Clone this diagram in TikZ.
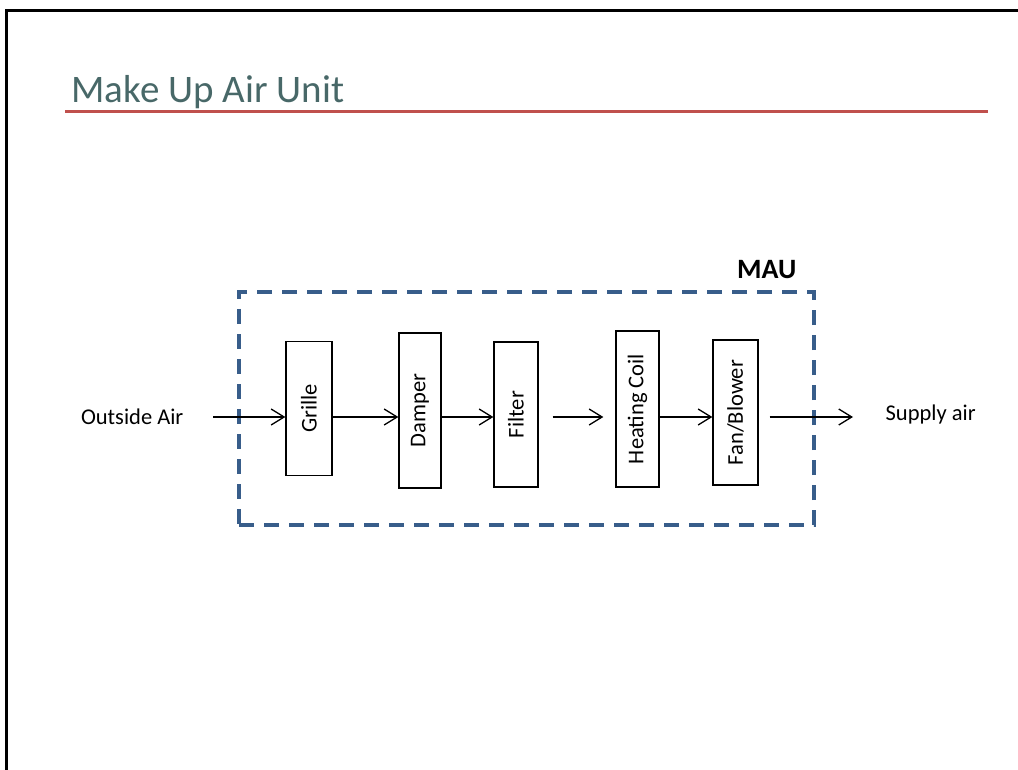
\documentclass[tikz,border=0pt]{standalone}
\usepackage{fontspec}
\setmainfont{Carlito}
\usepackage{graphicx}
\usetikzlibrary{positioning,arrows.meta}
\definecolor{titlegray}{RGB}{72,104,104}
\definecolor{rulered}{RGB}{192,80,77}
\definecolor{maublue}{RGB}{56,93,138}
\begin{document}
\begin{tikzpicture}[x=1pt, y=-1pt,
  unit/.style={draw, line width=1.3pt, inner sep=0pt, font=\fontsize{22.5}{26}\selectfont},
  lbl/.style={font=\fontsize{22.5}{26}\selectfont, inner sep=0pt},
  maubox/.style={draw=maublue, line width=4pt, dash pattern=on 15pt off 10pt, inner sep=0pt},
  maulbl/.style={font=\fontsize{28}{32}\selectfont\bfseries, inner sep=0pt},
  >={Straight Barb[length=13pt, width=16pt]}, line width=1.3pt]
  \useasboundingbox (0,0) rectangle (1018,770);
  % slide frame and title
  \draw[line width=3pt] (6.5,770) -- (6.5,11) -- (1018,11);
  \node[anchor=base west, inner sep=0pt, text=titlegray, font=\fontsize{39}{44}\selectfont] (title) at (71,103) {Make Up Air Unit};
  \draw[rulered, line width=3pt] (65,112) -- (988,112);
  % make up air unit
  \node[maubox, minimum width=575pt, minimum height=233pt] (mau) at (526.5,408.5) {};
  \node[maulbl, anchor=base east] (maulabel) at (797,279) {MAU};
  \node[unit, minimum width=46pt, minimum height=134pt] (grille) at (309,408.5) {\rotatebox{90}{Grille}};
  \node[unit, minimum width=42pt, minimum height=155pt] (damper) at (420,410.5) {\rotatebox{90}{Damper}};
  \node[unit, minimum width=44pt, minimum height=145pt] (filter) at (516,414.5) {\rotatebox{90}{Filter}};
  \node[unit, minimum width=43pt, minimum height=156pt] (heat) at (637.5,409) {\rotatebox{90}{Heating Coil}};
  \node[unit, minimum width=45pt, minimum height=145pt] (fan) at (735.5,412.5) {\rotatebox{90}{Fan/Blower}};
  \node[lbl, anchor=east] (outside) at (184,417) {Outside Air};
  \node[lbl, anchor=west] (supply) at (885,415) {Supply air};
  \coordinate (inlet) at (213,417);
  \coordinate (outlet) at (853,417);
  % air path
  \draw[->] (inlet) -- (grille.west |- inlet);
  \draw[->] (grille.east |- inlet) -- (damper.west |- inlet);
  \draw[->] (damper.east |- inlet) -- (filter.west |- inlet);
  \draw[->, shorten <=14pt, shorten >=12pt] (filter.east |- inlet) -- (heat.west |- inlet);
  \draw[->] (heat.east |- inlet) -- (fan.west |- inlet);
  \draw[->, shorten <=11pt] (fan.east |- inlet) -- (outlet);
\end{tikzpicture}
\end{document}
